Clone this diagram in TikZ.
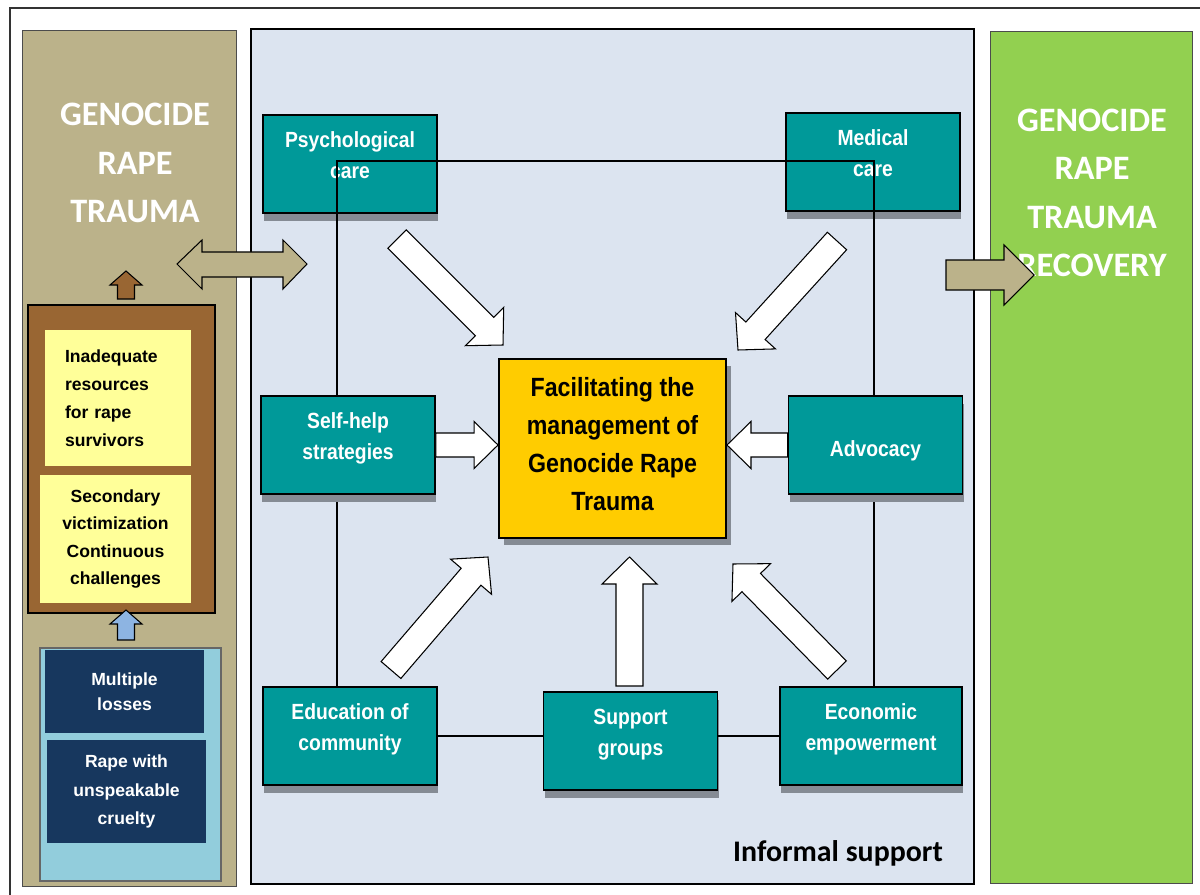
\documentclass[tikz,border=0pt]{standalone}
\usepackage{fontspec}
\setmainfont{Liberation Sans}
\newfontfamily\calfont{Carlito}
\newfontfamily\narrowfont[FakeStretch=0.88]{Liberation Sans}
\usetikzlibrary{calc,shadows}

\definecolor{panelblue}{HTML}{DCE4F0}
\definecolor{tealbox}{HTML}{009999}
\definecolor{facyellow}{HTML}{FFCC00}
\definecolor{paleyellow}{HTML}{FFFF99}
\definecolor{brownbox}{HTML}{996633}
\definecolor{tanbox}{HTML}{BBB28A}
\definecolor{greenbox}{HTML}{92D050}
\definecolor{skybox}{HTML}{92CDDC}
\definecolor{navybox}{HTML}{17375E}
\definecolor{shadowgray}{HTML}{858B94}
\definecolor{arrowblue}{HTML}{8DB4E2}

\def\px{0.02cm}

\newcommand{\blockarrow}[6][]{%
  \coordinate (ba-t) at (#2);
  \coordinate (ba-h) at (#3);
  \coordinate (ba-b) at ($(ba-h)!#6*\px!(ba-t)$);
  \draw[#1] ($(ba-t)!#4*\px!90:(ba-h)$) -- ($(ba-b)!#4*\px!90:(ba-h)$)
    -- ($(ba-b)!#5*\px!90:(ba-h)$) -- (ba-h)
    -- ($(ba-b)!#5*\px!-90:(ba-h)$) -- ($(ba-b)!#4*\px!-90:(ba-h)$)
    -- ($(ba-t)!#4*\px!-90:(ba-h)$) -- cycle;}

\tikzset{
  carebox/.style={draw, line width=1.1pt, fill=tealbox, text=white, align=center,
    font=\narrowfont\bfseries\fontsize{12.5}{18}\selectfont, inner sep=0pt,
    minimum width=174*\px, minimum height=98*\px, text depth=10pt,
    drop shadow={shadow xshift=0.02cm, shadow yshift=-0.16cm, fill=shadowgray, opacity=1}},
  facbox/.style={draw, line width=1.1pt, fill=facyellow, align=center,
    font=\narrowfont\bfseries\fontsize{15}{21.5}\selectfont, inner sep=0pt,
    minimum width=227*\px, minimum height=179*\px, text depth=5pt,
    drop shadow={shadow xshift=0.1cm, shadow yshift=-0.14cm, fill=shadowgray, opacity=1}},
  notebox/.style={fill=paleyellow, inner sep=0pt, font=\bfseries\fontsize{10}{16}\selectfont},
  lossbox/.style={fill=navybox, text=white, align=center, inner sep=0pt,
    font=\bfseries\fontsize{10}{16}\selectfont},
  titletext/.style={text=white, align=center, font=\calfont\bfseries\fontsize{19.5}{27.5}\selectfont},
  link/.style={line width=0.9pt},
  warrow/.style={fill=white, draw=black, line width=0.6pt},
  tanarrow/.style={fill=tanbox, draw=black, line width=0.6pt},
}

\begin{document}
\begin{tikzpicture}[x=0.02cm, y=-0.02cm]
\useasboundingbox (0,0) rectangle (1200,895);
\draw[line width=0.8pt, black!80] (10,895) -- (10,8) -- (1200,8);

\filldraw[fill=tanbox, draw=black!70, line width=0.5pt] (22,30) rectangle (236,886);
\filldraw[fill=panelblue, draw=black, line width=1pt] (251,29) rectangle (974,884);
\filldraw[fill=greenbox, draw=black!70, line width=0.5pt] (990,31) rectangle (1192,883);

\node[titletext] (trauma) at (135,163) {GENOCIDE\\RAPE\\TRAUMA};
\node[titletext] (recovery) at (1092,193) {GENOCIDE\\RAPE\\TRAUMA\\RECOVERY};

\filldraw[fill=brownbox, draw=black, line width=0.8pt] (28,305) rectangle (215,613);
\node[notebox, align=left, text width=106*\px, minimum width=146*\px, minimum height=136*\px] (resources) at (118,398)
  {Inadequate\\resources\\for rape\\survivors};
\node[notebox, align=center, minimum width=151*\px, minimum height=128*\px,
  font=\bfseries\fontsize{10}{15.5}\selectfont] (challenges) at (115.5,539)
  {Secondary\\victimization\\Continuous\\challenges};

\filldraw[fill=skybox, draw=black!60, line width=0.6pt] (40,648) rectangle (221,881);
\node[lossbox, minimum width=159*\px, minimum height=83*\px,
  font=\bfseries\fontsize{10}{14}\selectfont] (losses) at (124.5,691.5) {Multiple\\losses};
\node[lossbox, minimum width=159*\px, minimum height=103*\px] (cruelty) at (126.5,791.5)
  {Rape with\\unspeakable\\cruelty};

\blockarrow[fill=brownbox, draw=black, line width=0.6pt]{126,299}{126,271}{8.5}{16}{14}
\blockarrow[fill=arrowblue, draw=black, line width=0.6pt]{126,640}{126,610}{8.5}{16}{14}

\node[carebox] (psych) at (350,164) {Psychological\\care};
\node[carebox] (medical) at (873,162) {Medical\\care};
\node[carebox] (edu) at (350,736) {Education of\\community};
\node[carebox] (support) at (630.5,741) {Support\\groups};
\node[carebox, minimum width=182*\px] (econ) at (871,736) {Economic\\empowerment};

\coordinate (cornerL) at (337,161);
\coordinate (cornerR) at (874,161);
\draw[link] (cornerL |- edu.north) -- (cornerL) -- (cornerR) -- (cornerR |- econ.north);
\draw[link] (edu.east) -- (edu.east -| support.west);
\draw[link] (econ.west -| support.east) -- (econ.west);

\node[carebox] (selfhelp) at (348,445) {Self-help\\strategies};
\node[carebox, text depth=, text height=16pt] (advocacy) at (875.5,445) {Advocacy};
\node[facbox] (fac) at (612.5,448.5) {Facilitating the\\management of\\Genocide Rape\\Trauma};

\blockarrow[warrow]{397,239}{503,345}{13}{27}{26}
\blockarrow[warrow]{837,241}{738,350}{13}{27}{26}
\blockarrow[warrow]{391,670}{488,557}{13}{27}{26}
\blockarrow[warrow]{837,670}{733,564}{13}{27}{26}
\blockarrow[warrow]{629.5,686}{629.5,557}{13.5}{27.5}{27}
\blockarrow[warrow]{selfhelp.east}{selfhelp.east -| fac.west}{12}{23.5}{24}
\blockarrow[warrow]{advocacy.west}{advocacy.west -| fac.east}{12}{23.5}{24}

\draw[tanarrow] (177,264) -- (202,240) -- (202,252) -- (283,252) -- (283,240) -- (307,264)
  -- (283,289) -- (283,277) -- (202,277) -- (202,289) -- cycle;
\blockarrow[tanarrow]{946,275}{1034,275}{15}{30}{30}

\node[font=\calfont\bfseries\fontsize{17}{20}\selectfont] (informal) at (838,853) {Informal support};
\end{tikzpicture}
\end{document}
